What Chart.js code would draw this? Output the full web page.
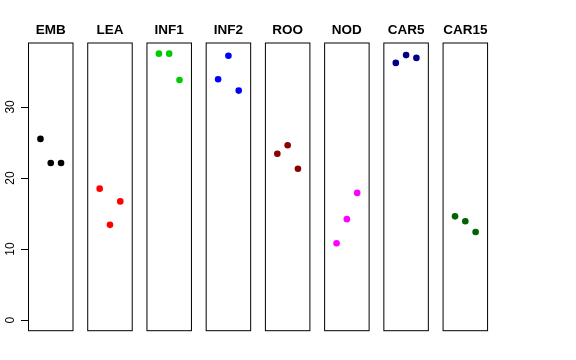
<!DOCTYPE html>
<html>
<head>
<meta charset="utf-8">
<script src="https://cdn.jsdelivr.net/npm/chart.js@4/dist/chart.umd.min.js"></script>
<style>
  html, body { margin: 0; padding: 0; background: #fff; }
  #wrap { width: 576px; height: 360px; }
</style>
</head>
<body>
<div id="wrap"><canvas id="c" width="576" height="360"></canvas></div>
<script>
// ---- data ----
const categories = ["EMB", "LEA", "INF1", "INF2", "ROO", "NOD", "CAR5", "CAR15"];
const EMB   = [25.5, 22.1, 22.1];
const LEA   = [18.5, 13.4, 16.7];
const INF1  = [37.5, 37.5, 33.8];
const INF2  = [33.9, 37.2, 32.3];
const ROO   = [23.4, 24.6, 21.3];
const NOD   = [10.8, 14.2, 17.9];
const CAR5  = [36.2, 37.3, 36.9];
const CAR15 = [14.6, 13.9, 12.4];
const yTicks = [0, 10, 20, 30];

const seriesValues = [EMB, LEA, INF1, INF2, ROO, NOD, CAR5, CAR15];
const seriesColors = ["#000000", "#FF0000", "#00CD00", "#0000FF", "#8B0000", "#FF00FF", "#00008B", "#006400"];

// panel geometry in x-units (each panel spans local x in [XLO, XHI], points at 1,2,3)
const XLO = -0.16, XHI = 4.16, STEP = 5.75;
const YLO = -1.5, YHI = 39.0;

const datasets = seriesValues.map((vals, k) => ({
  label: categories[k],
  data: vals.map((v, j) => ({ x: k * STEP + (j + 1), y: v })),
  backgroundColor: seriesColors[k],
  borderColor: seriesColors[k],
  borderWidth: 0,
  pointRadius: 3.3,
  pointHoverRadius: 3.3
}));

const panelPlugin = {
  id: 'panels',
  afterDatasetsDraw(chart) {
    const ctx = chart.ctx;
    const xs = chart.scales.x, ys = chart.scales.y;
    const top = ys.getPixelForValue(YHI), bottom = ys.getPixelForValue(YLO);
    ctx.save();
    ctx.strokeStyle = '#000';
    ctx.lineWidth = 1;
    categories.forEach((name, k) => {
      const l = xs.getPixelForValue(k * STEP + XLO);
      const r = xs.getPixelForValue(k * STEP + XHI);
      ctx.strokeRect(l, top, r - l, bottom - top);
      ctx.fillStyle = '#000';
      ctx.font = 'bold 13.5px "Liberation Sans", Arial, sans-serif';
      ctx.textAlign = 'center';
      ctx.textBaseline = 'alphabetic';
      ctx.fillText(name, (l + r) / 2, 34.3);
    });
    // y axis
    const ax = xs.getPixelForValue(XLO);
    ctx.beginPath();
    ctx.moveTo(ax, ys.getPixelForValue(yTicks[0]));
    ctx.lineTo(ax, ys.getPixelForValue(yTicks[yTicks.length - 1]));
    yTicks.forEach(t => {
      const py = Math.round(ys.getPixelForValue(t)) + 0.5;
      ctx.moveTo(ax, py);
      ctx.lineTo(ax - 7.5, py);
    });
    ctx.stroke();
    ctx.font = '12px "Liberation Sans", Arial, sans-serif';
    ctx.textAlign = 'center';
    ctx.textBaseline = 'alphabetic';
    yTicks.forEach(t => {
      const py = ys.getPixelForValue(t);
      ctx.save();
      ctx.translate(13.5, py);
      ctx.rotate(-Math.PI / 2);
      ctx.fillText(String(t), 0, 0);
      ctx.restore();
    });
    ctx.restore();
  }
};

new Chart(document.getElementById('c'), {
  type: 'scatter',
  data: { datasets },
  options: {
    responsive: false,
    animation: false,
    devicePixelRatio: 1,
    layout: { padding: { left: 28.5, right: 88, top: 43, bottom: 29.3 } },
    plugins: { legend: { display: false }, tooltip: { enabled: false } },
    scales: {
      x: { type: 'linear', display: false, min: XLO, max: XLO + (488 - 28.5) / 10.3 },
      y: { type: 'linear', display: false, min: YLO, max: YHI }
    }
  },
  plugins: [panelPlugin]
});
</script>
</body>
</html>
